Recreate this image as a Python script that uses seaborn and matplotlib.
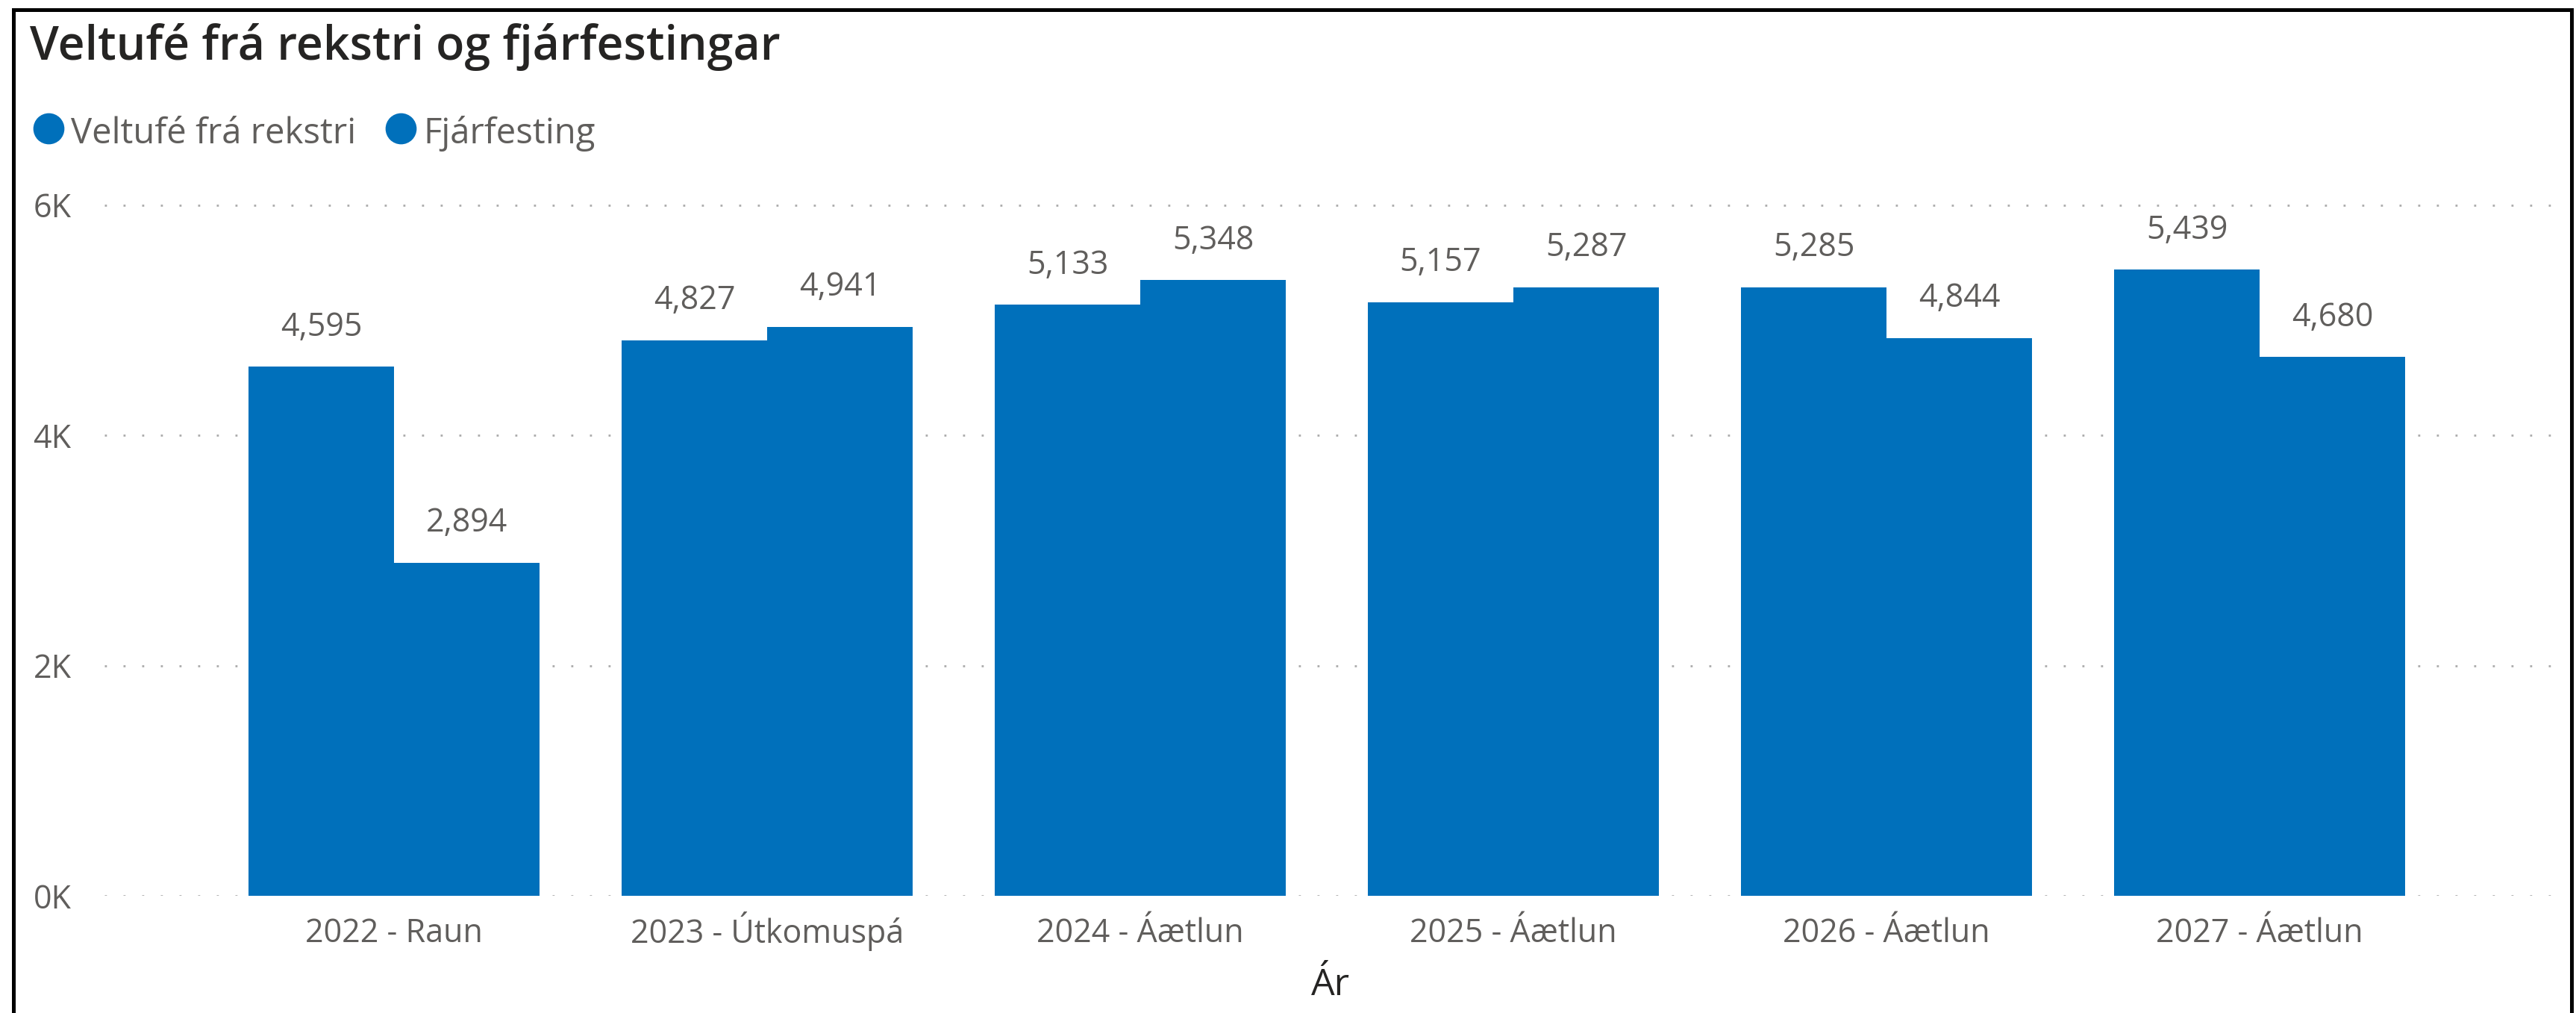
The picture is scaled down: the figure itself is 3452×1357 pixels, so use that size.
import numpy as np
import pandas as pd
import seaborn as sns
import matplotlib.pyplot as plt
from matplotlib.ticker import FuncFormatter

# data
years = ['2022 - Raun', '2023 - Útkomuspá', '2024 - Áætlun',
         '2025 - Áætlun', '2026 - Áætlun', '2027 - Áætlun']
series = ['Veltufé frá rekstri', 'Fjárfesting']
veltufe = [4595, 4827, 5133, 5157, 5285, 5439]
fjarfesting = [2894, 4941, 5348, 5287, 4844, 4680]

blue = '#0070BB'
grey_txt = '#605E5C'
dark_txt = '#252423'

W, H = 3452, 1357

sns.set_theme(style='white')
plt.rcParams['font.family'] = ['Open Sans', 'DejaVu Sans']

df = pd.DataFrame({
    'Ár': years * 2,
    'series': [series[0]] * len(years) + [series[1]] * len(years),
    'value': veltufe + fjarfesting,
})

fig = plt.figure(figsize=(W / 100, H / 100), dpi=100)
ax = fig.add_axes([140 / W, (H - 1200) / H, (3425 - 140) / W, 933 / H])

sns.barplot(data=df, x='Ár', y='value', hue='series', hue_order=series,
            palette=[blue, blue], saturation=1, width=0.78, legend=False,
            linewidth=0, edgecolor=blue, ax=ax)

ax.set_xlim(-0.776, 5.794)
ax.set_ylim(0, 6050)
ax.set_yticks([0, 2000, 4000, 6000])
ax.yaxis.set_major_formatter(FuncFormatter(lambda v, p: f'{v / 1000:.0f}K'))
ax.yaxis.grid(True, linestyle=(0, (1, 8)), color='#ABABAB', linewidth=2)
ax.set_axisbelow(True)
for s in ax.spines.values():
    s.set_visible(False)
ax.tick_params(axis='y', length=0, pad=32, labelsize=31, labelcolor=grey_txt)
ax.tick_params(axis='x', length=0, pad=45, labelsize=31, labelcolor=grey_txt)
for t in ax.get_xticklabels():
    t.set_verticalalignment('baseline')
ax.set_ylabel('')
ax.set_xlabel('Ár', fontsize=36, color=dark_txt, labelpad=16)

for cont in ax.containers:
    ax.bar_label(cont, labels=[f'{b.get_height():,.0f}' for b in cont],
                 padding=22, fontsize=31, color=grey_txt)

# title
fig.text(40 / W, 1 - 80 / H, 'Veltufé frá rekstri og fjárfestingar',
         fontsize=45, fontweight='semibold', color=dark_txt, va='baseline')

# legend drawn by hand to sit like the Power BI one
for mx, tx, lab in [(65, 95, series[0]), (537, 567, series[1])]:
    ax.plot([mx / W], [1 - 172 / H], 'o', ms=29, color=blue,
            transform=fig.transFigure, clip_on=False)
    fig.text(tx / W, 1 - 192 / H, lab, fontsize=34, color=grey_txt, va='baseline')

# black frame (open at the bottom)
fig.add_artist(plt.Rectangle((18 / W, -0.1), (3446 - 18) / W, 1.1 - 13 / H,
                             fill=False, ec='black', lw=3.6,
                             transform=fig.transFigure, clip_on=False))

fig.savefig('out.png', dpi=100)
